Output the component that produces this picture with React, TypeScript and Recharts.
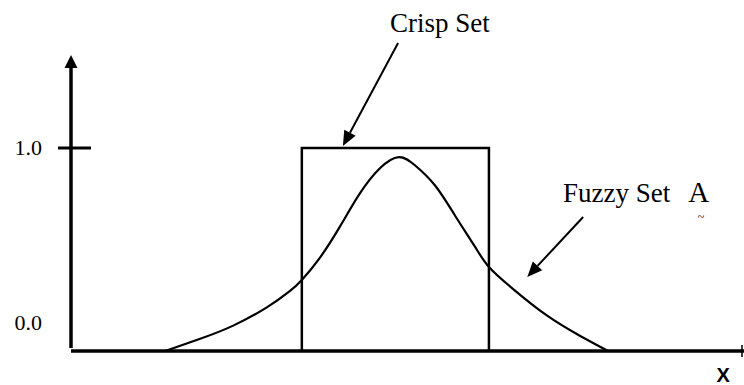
import { ComposedChart, Line, XAxis, YAxis, ReferenceLine, ReferenceDot } from 'recharts';

// fuzzy set membership curve
const fuzzyX = [14, 19.2, 24.1, 29.1, 32.5, 34.3, 37.0, 40.0, 42.9, 45.9, 48.7, 51.1, 54.1, 57.1, 60.0, 62.1, 65.7, 70.7, 75.6, 79.8];
const fuzzyY = [0, 0.06, 0.125, 0.215, 0.295, 0.35, 0.46, 0.615, 0.775, 0.9, 0.955, 0.915, 0.815, 0.665, 0.515, 0.414, 0.305, 0.175, 0.075, 0];

// crisp set (rectangle)
const crispX = [34.3, 34.3, 62.1, 62.1];
const crispY = [0, 1, 1, 0];

const yTicks = [0, 1];
const yTickLabels = ['0.0', '1.0'];

const fuzzyData = fuzzyX.map((x, i) => ({ x, y: fuzzyY[i] }));
const crispData = crispX.map((x, i) => ({ x, y: crispY[i] }));

const SERIF = '"Liberation Serif", "Times New Roman", serif';
const SANS = '"Liberation Sans", Arial, sans-serif';

const arrowShape = (width: number, head: number, half: number) => (p: any) => {
  const { x1, y1, x2, y2 } = p;
  const dx = x2 - x1;
  const dy = y2 - y1;
  const len = Math.hypot(dx, dy) || 1;
  const ux = dx / len;
  const uy = dy / len;
  const bx = x2 - ux * head;
  const by = y2 - uy * head;
  const nx = -uy * half;
  const ny = ux * half;
  return (
    <g>
      <line x1={x1} y1={y1} x2={bx} y2={by} stroke="#000" strokeWidth={width} />
      <polygon points={`${x2},${y2} ${bx + nx},${by + ny} ${bx - nx},${by - ny}`} fill="#000" />
    </g>
  );
};

const textShape =
  (label: string, size: number, anchor = 'middle', family = SERIF, weight = 'normal') =>
  (p: any) => (
    <text x={p.cx} y={p.cy} fontSize={size} fontFamily={family} fontWeight={weight} textAnchor={anchor} fill="#000">
      {label}
    </text>
  );

const YTick = (props: any) => {
  const { x, y, payload } = props;
  const idx = yTicks.indexOf(payload.value);
  const isZero = payload.value === 0;
  return (
    <g>
      <text
        x={x - 29}
        y={isZero ? y - 28 : y}
        dy={7}
        fontSize={22}
        fontFamily={SERIF}
        textAnchor="end"
        fill="#000"
      >
        {yTickLabels[idx]}
      </text>
      {!isZero && <line x1={x - 13} x2={x + 20} y1={y} y2={y} stroke="#000" strokeWidth={3} />}
    </g>
  );
};

export default function App() {
  return (
    <div style={{ position: 'absolute', left: 0, top: 0, width: 744, height: 385, background: '#fff' }}>
      <ComposedChart width={744} height={385} margin={{ top: 0, right: 0, left: 0, bottom: 0 }}>
        <XAxis
          type="number"
          dataKey="x"
          domain={[0, 100]}
          height={34}
          tick={false}
          tickLine={false}
          axisLine={{ stroke: '#000', strokeWidth: 3.5 }}
        />
        <YAxis
          type="number"
          dataKey="y"
          domain={[0, 1.729]}
          ticks={yTicks}
          width={71}
          axisLine={false}
          tickLine={false}
          tickSize={0}
          tickMargin={0}
          tick={<YTick />}
        />
        {/* y axis with arrow */}
        <ReferenceLine
          segment={[{ x: 0, y: 0.015 }, { x: 0, y: 1.458 }]}
          shape={arrowShape(3.5, 13, 6.5)}
          ifOverflow="visible"
        />
        {/* end mark on x axis */}
        <ReferenceLine
          segment={[{ x: 99.7, y: -0.03 }, { x: 99.7, y: 0.03 }]}
          stroke="#000"
          strokeWidth={1.5}
          ifOverflow="visible"
        />
        <Line data={crispData} dataKey="y" type="linear" stroke="#000" strokeWidth={2.5} dot={false} isAnimationActive={false} />
        <Line data={fuzzyData} dataKey="y" type="natural" stroke="#000" strokeWidth={2.2} dot={false} isAnimationActive={false} />
        {/* annotations */}
        <ReferenceLine
          segment={[{ x: 48.6, y: 1.517 }, { x: 40.4, y: 1.01 }]}
          shape={arrowShape(2, 15, 6.5)}
          ifOverflow="visible"
        />
        <ReferenceLine
          segment={[{ x: 76.1, y: 0.66 }, { x: 67.8, y: 0.365 }]}
          shape={arrowShape(2, 15, 6.5)}
          ifOverflow="visible"
        />
        <ReferenceDot x={54.8} y={1.571} r={0} ifOverflow="visible" shape={textShape('Crisp Set', 27)} />
        <ReferenceDot x={73.1} y={0.734} r={0} ifOverflow="visible" shape={textShape('Fuzzy Set', 27, 'start')} />
        <ReferenceDot x={91.7} y={0.734} r={0} ifOverflow="visible" shape={textShape('A', 29, 'start')} />
        <ReferenceDot x={93.6} y={0.64} r={0} ifOverflow="visible" shape={textShape('~', 12)} />
        <ReferenceDot x={96.9} y={-0.153} r={0} ifOverflow="visible" shape={textShape('X', 20, 'middle', SANS, 'bold')} />
      </ComposedChart>
    </div>
  );
}
